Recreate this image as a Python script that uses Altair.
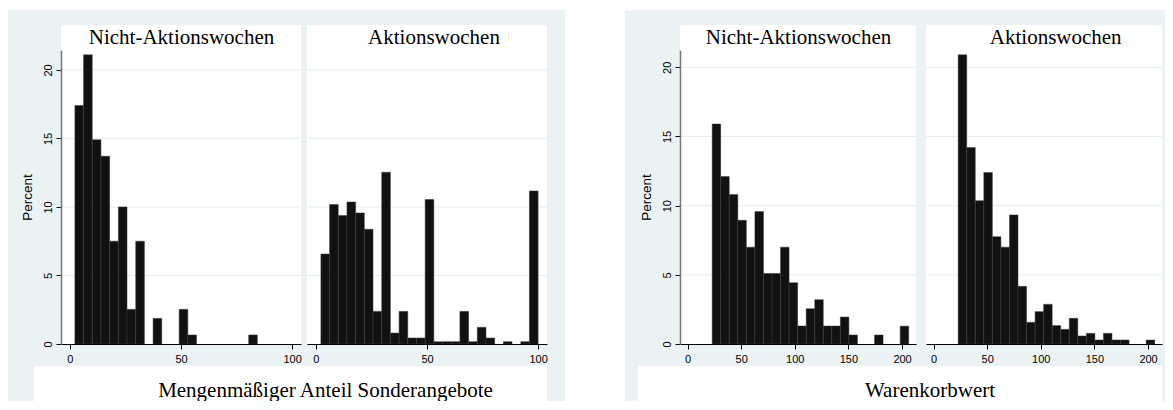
import altair as alt
import pandas as pd

# ---------------- data ----------------
panel_titles = ["Nicht-Aktionswochen", "Aktionswochen"]
x_titles = ["Mengenmäßiger Anteil Sonderangebote", "Warenkorbwert"]
y_title = "Percent"

# histogram bin edges
mengen_edges = [2.25, 6.16, 10.07, 13.98, 17.89, 21.80, 25.71, 29.62, 33.53, 37.44,
                41.35, 45.26, 49.17, 53.08, 56.99, 60.90, 64.81, 68.72, 72.63, 76.54,
                80.45, 84.36, 88.27, 92.18, 96.09, 100.0]
waren_edges = [23.0, 30.97, 38.93, 46.90, 54.86, 62.83, 70.80, 78.76, 86.73, 94.69,
               102.66, 110.63, 118.59, 126.56, 134.52, 142.49, 150.46, 158.42, 166.39,
               174.35, 182.32, 190.29, 198.25, 206.22]

# percent per bin
mengen_nicht = [17.4, 21.1, 14.9, 13.7, 7.5, 10.0, 2.53, 7.5, 0, 1.87, 0, 0, 2.53,
                0.66, 0, 0, 0, 0, 0, 0, 0.66, 0, 0, 0, 0]
mengen_aktion = [6.57, 10.17, 9.37, 10.36, 9.56, 8.37, 2.38, 12.53, 0.80, 2.38, 0.44,
                 0.44, 10.54, 0.17, 0.17, 0.17, 2.38, 0.17, 1.22, 0.44, 0, 0.17, 0,
                 0.17, 11.17]
waren_nicht = [15.9, 12.1, 10.8, 8.94, 7.0, 9.57, 5.1, 5.1, 7.0, 4.43, 1.3, 2.55, 3.2,
               1.3, 1.3, 1.95, 0.65, 0, 0, 0.65, 0, 0, 1.29]
waren_aktion = [20.9, 14.2, 10.36, 12.4, 7.76, 7.0, 9.33, 4.17, 1.57, 2.34, 2.87, 1.33,
                1.06, 1.86, 0.58, 0.77, 0.29, 0.77, 0.29, 0.29, 0, 0, 0.29]

y_ticks = [0, 5, 10, 15, 20]
grid_vals = [5, 10, 15, 20]
mengen_ticks = [0, 50, 100]
waren_ticks = [0, 50, 100, 150, 200]

# ---------------- styling ----------------
BG = "#EAF2F3"
GRID = "#E4EDF0"
BAR = "#111111"
SERIF = "Liberation Serif"
SANS = "Liberation Sans"
H = 294

one = alt.Data(values=[{"k": 1}])


def box(x, x2, y, y2, color):
    return alt.Chart(one).mark_rect(fill=color, strokeWidth=0).encode(
        x=alt.value(x), x2=alt.value(x2), y=alt.value(y), y2=alt.value(y2))


def txt(s, x, y, size=21):
    return alt.Chart(one).mark_text(
        text=s, font=SERIF, fontSize=size, align="center",
        baseline="alphabetic", color="black").encode(x=alt.value(x), y=alt.value(y))


def panel(edges, vals, xdom, xrng, xticks, ydom, title, title_x, show_y, view_w,
          back=None):
    df = pd.DataFrame({"lo": edges[:-1], "hi": edges[1:], "pct": vals,
                       "base": [0.0] * len(vals)})
    xs = alt.Scale(domain=xdom, range=[0, xrng], nice=False, zero=False)
    ys = alt.Scale(domain=ydom, nice=False, zero=False)
    if show_y:
        yaxis = alt.Axis(values=y_ticks, title=y_title, grid=False,
                         labelAngle=270, labelAlign="center", labelBaseline="bottom",
                         labelFont=SANS, labelFontSize=11, labelColor="black",
                         labelPadding=3, tickSize=5, tickColor="black",
                         domainColor="#777777", domainWidth=1.5,
                         titleFont=SANS, titleFontSize=13.5, titleFontWeight="normal",
                         titleColor="black", titlePadding=8, zindex=1)
    else:
        yaxis = None
    xaxis = alt.Axis(values=xticks, title=None, grid=False, labelAngle=0,
                     labelFont=SANS, labelFontSize=11, labelColor="black",
                     labelPadding=4, labelFlush=False, labelOverlap=False,
                     tickSize=5, tickColor="black", domainColor="black",
                     domainWidth=1, zindex=1)
    grid = alt.Chart(pd.DataFrame({"g": grid_vals})).mark_rule(
        color=GRID, strokeWidth=1).encode(
        y=alt.Y("g:Q", scale=ys, axis=yaxis), x=alt.value(0), x2=alt.value(xrng))
    bars = alt.Chart(df).transform_filter("datum.pct > 0").mark_rect(
        fill=BAR, stroke="#3c3c3c", strokeWidth=0.5).encode(
        x=alt.X("lo:Q", scale=xs, axis=xaxis), x2="hi:Q",
        y=alt.Y("pct:Q", scale=ys, axis=yaxis), y2="base:Q")
    layers = list(back) if back else []
    layers += [box(0, xrng, 0, H, "white"), box(0, xrng, -25, 0, "white"),
               grid, bars, txt(title, title_x, -6)]
    return alt.layer(*layers).properties(width=view_w, height=H)


p1 = panel(mengen_edges, mengen_nicht, [-4, 104], 240, mengen_ticks, [0, 21.45],
           panel_titles[0], 120.5, True, 240,
           back=[box(-53, 504, -40, 351, BG), box(-27, 486, 316, 351, "white"),
                 txt(x_titles[0], 264.5, 347)])
p2 = panel(mengen_edges, mengen_aktion, [-4, 104], 240, mengen_ticks, [0, 21.45],
           panel_titles[1], 127, False, 367)
p3 = panel(waren_edges, waren_nicht, [-7, 213], 236, waren_ticks, [0, 21.25],
           panel_titles[0], 118.5, True, 240,
           back=[box(-55, 485, -40, 351, BG), box(-42, 482, 316, 351, "white"),
                 txt(x_titles[1], 250, 347)])
p4 = panel(waren_edges, waren_aktion, [-7, 213], 236, waren_ticks, [0, 21.25],
           panel_titles[1], 129.7, False, 236)

chart = alt.hconcat(p1, p2, p3, p4, spacing=6, bounds="flush").properties(
    padding={"left": 0, "top": 2, "right": 0, "bottom": 0},
    background="white",
).configure_view(stroke=None)

chart.save("out.html", embed_options={"renderer": "svg", "actions": False})
